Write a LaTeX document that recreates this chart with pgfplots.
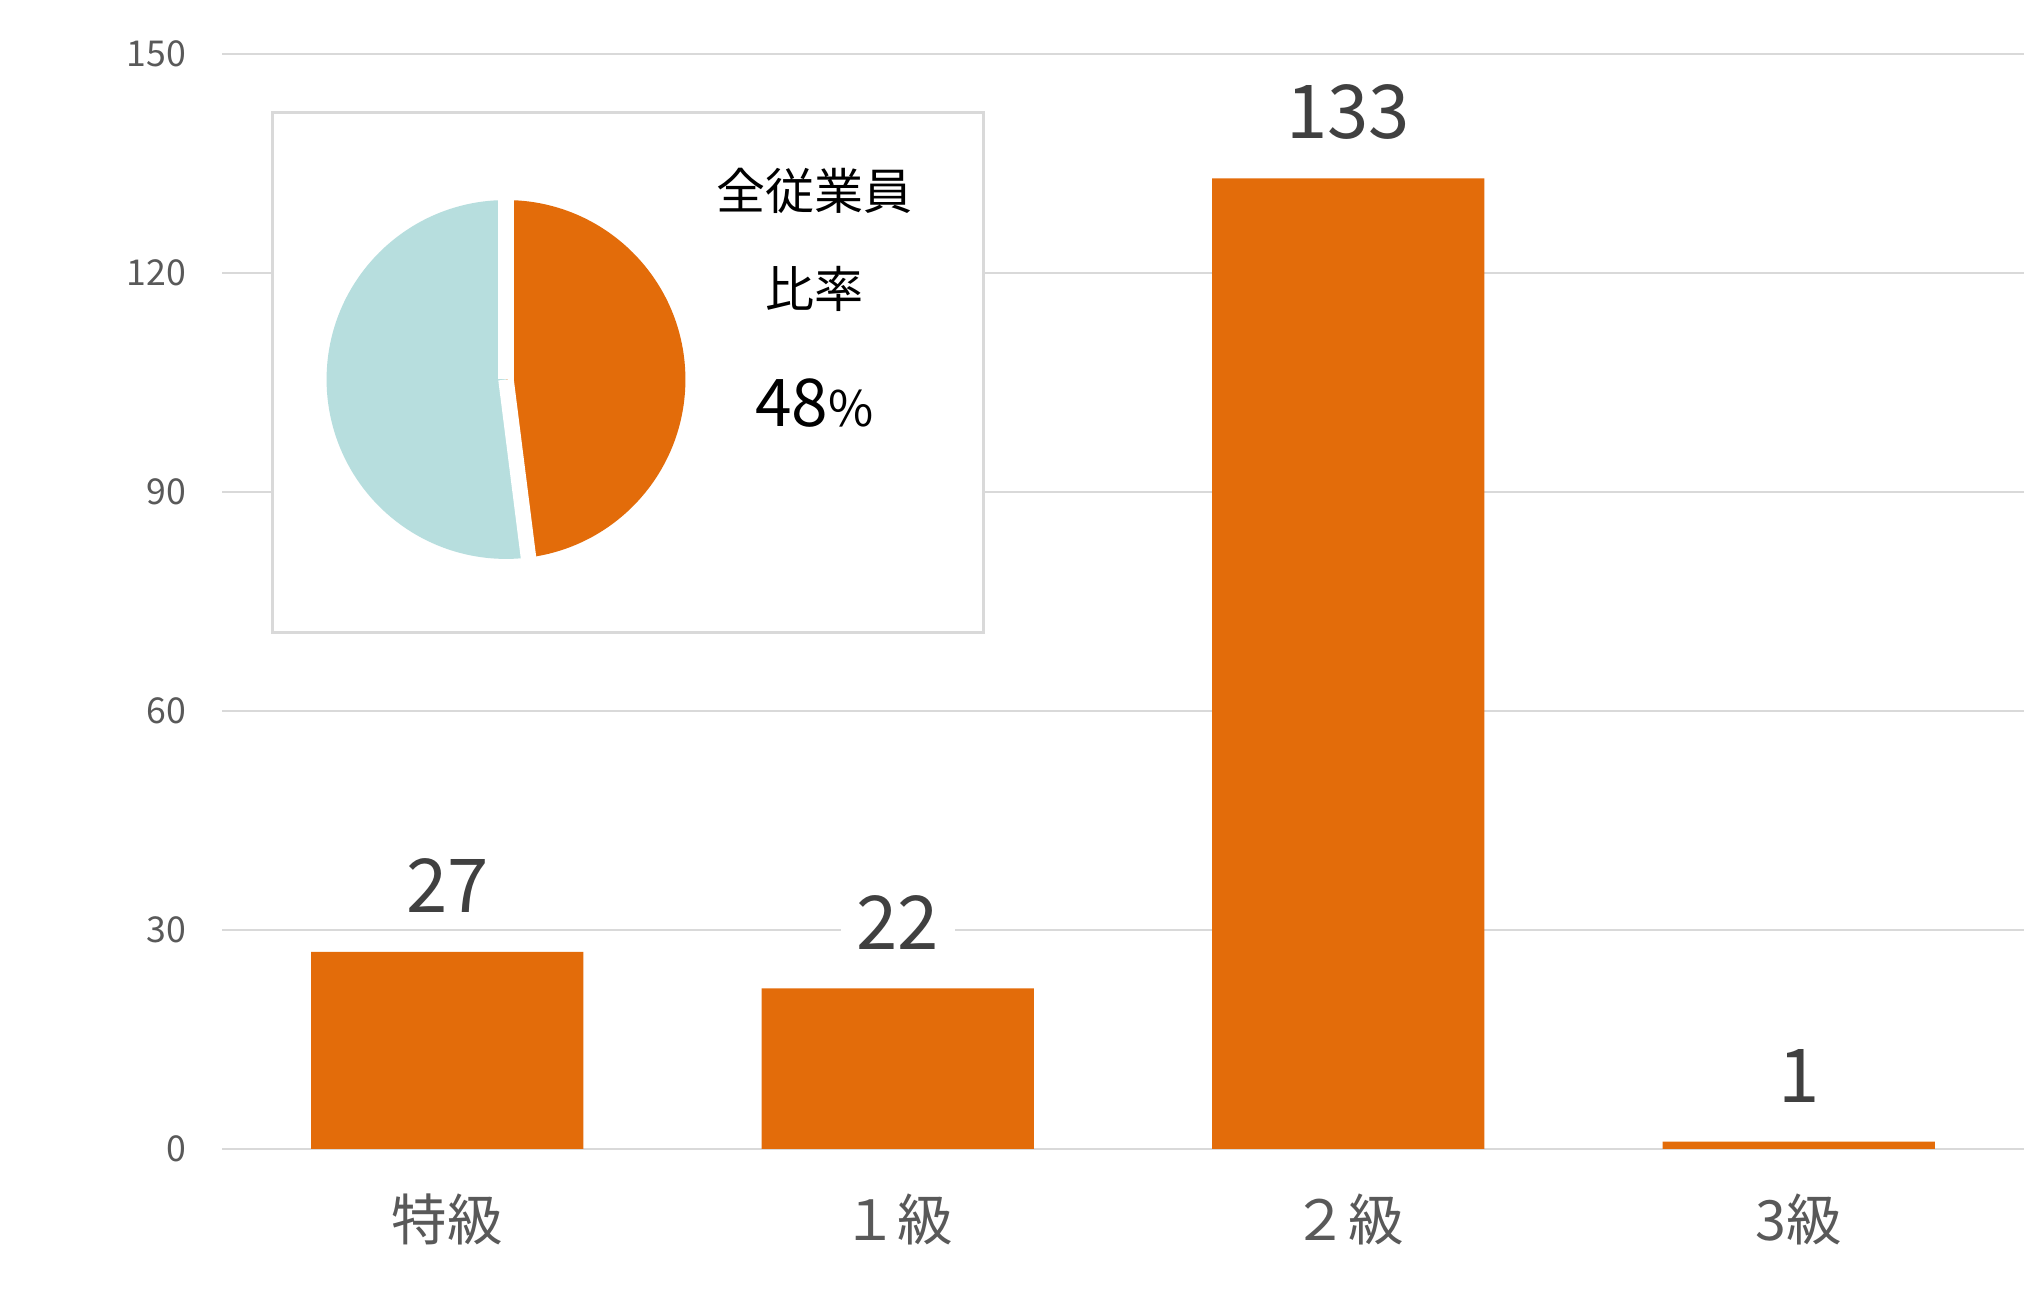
\documentclass[border=0pt]{standalone}
\usepackage{fontspec}
\setmainfont{Noto Sans CJK JP}
\usepackage{pgfplots}
\pgfplotsset{compat=1.18}
\pgfplotsset{/pgf/number format/assume math mode=true}

\definecolor{barorange}{HTML}{E36C0A}
\definecolor{piecyan}{HTML}{B7DEDE}
\definecolor{gridgray}{HTML}{D9D9D9}
\definecolor{ticktext}{HTML}{595959}
\definecolor{valtext}{HTML}{404040}

% share of all employees (percent)
\def\share{48}
\pgfmathsetmacro{\endang}{90-3.6*\share}

\begin{document}
\begin{tikzpicture}
\begin{axis}[
  at={(0,0)}, anchor=south west,
  scale only axis, width=698pt, height=424pt,
  xmin=-0.5, xmax=3.5, ymin=0, ymax=150,
  ybar, bar width=105.5pt,
  axis line style={draw=none},
  major tick length=0pt,
  ytick={0,30,60,90,120,150},
  ymajorgrids, grid style={gridgray, line width=1pt},
  xtick={0,1,2,3},
  xticklabels={特級,１級,２級,3級},
  yticklabel style={font=\fontsize{13.8}{16}\selectfont, color=ticktext, xshift=-10.5pt},
  xticklabel style={font=\fontsize{21.5}{24}\selectfont, color=ticktext, anchor=center, yshift=-27.5pt},
  nodes near coords,
  nodes near coords style={font=\fontsize{28.8}{32}\selectfont, color=valtext,
    anchor=center, yshift=25.5pt, fill=white, inner xsep=6pt, inner ysep=0pt},
]
\addplot[fill=barorange, draw=none] coordinates {(0,27) (1,22) (2,133) (3,1)};
\end{axis}

% inset panel
\draw[gridgray, line width=1pt, fill=white] (19.5pt,200pt) rectangle (295pt,401.5pt);

\begin{axis}[
  at={(110pt,298pt)}, anchor=center,
  scale only axis, width=139pt, height=139pt,
  xmin=-1, xmax=1, ymin=-1, ymax=1,
  hide axis, clip=false,
]
\fill[barorange] (axis cs:0,0) -- (axis cs:0,1) arc[start angle=90, end angle=\endang, radius=69.5pt] -- cycle;
\fill[piecyan] (axis cs:0,0) -- (axis cs:0,1) arc[start angle=90, end angle=\endang+360, radius=69.5pt] -- cycle;
\draw[white, line width=6pt] (axis cs:0,0) -- (axis cs:0,1.05);
\draw[white, line width=6pt] (axis cs:0,0) -- (axis cs:{1.05*cos(\endang)},{1.05*sin(\endang)});
\end{axis}

\node at (229.5pt,371pt) {\fontsize{19}{22}\selectfont 全従業員};
\node at (229.5pt,333pt) {\fontsize{19}{22}\selectfont 比率};
\node at (229.5pt,289pt) {\fontsize{25.5}{28}\selectfont 48{\fontsize{19}{22}\selectfont\%}};

\pgfresetboundingbox
\path[use as bounding box] (-86pt,-58pt) rectangle (698pt,445pt);
\end{tikzpicture}
\end{document}
